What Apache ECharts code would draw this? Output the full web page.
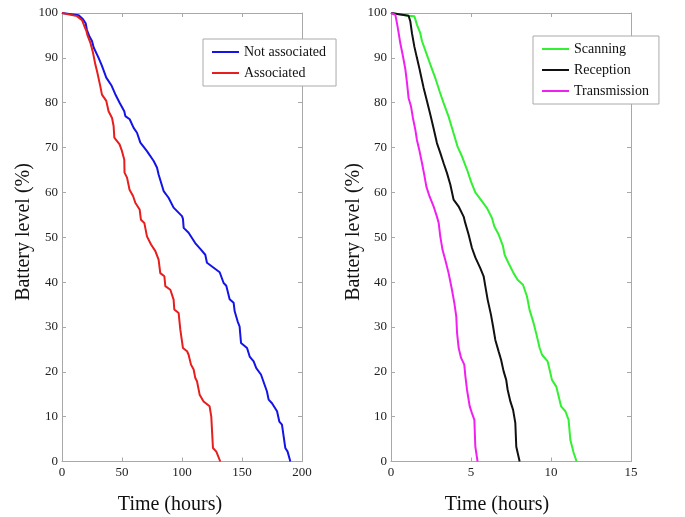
<!DOCTYPE html>
<html><head><meta charset="utf-8">
<script src="https://cdn.jsdelivr.net/npm/echarts@6/dist/echarts.min.js"></script>
<style>html,body{margin:0;padding:0;background:#fff}#c{width:685px;height:517px}</style>
</head><body><div id="c"></div>
<script>
// Left panel: time (hours), battery level (%)
var notAssociated = [[0,100],[13.9,99.5],[17.5,98.6],[19.7,97.7],[20.8,96.2],[23,94.7],[25,93.75],[26.4,92.3],[30.5,90],[33.3,88.2],[36.9,85.6],[41.1,83.9],[44.4,81.9],[48,80],[51.9,78.1],[52.8,77],[56.4,76.3],[59.7,74.4],[62.5,73.3],[65.3,71.1],[70.8,69.2],[76.4,67],[79.2,65.5],[80.5,64],[84.7,60.3],[88.8,58.8],[93,56.6],[100,54.7],[100.8,54.1],[101.4,52.1],[105.5,51],[111,48.7],[115.6,47.3],[119.4,46.1],[120.8,44.3],[126.4,43.2],[131.4,42.2],[134.7,39.8],[136.9,39.2],[139.7,36.2],[143,35.4],[143.9,33.5],[146.4,31.2],[148,30.1],[149.2,26.4],[154.2,25.3],[156.4,23.4],[159.7,22.3],[161.9,20.8],[165.8,19.4],[170.8,15.6],[172.2,13.8],[175,13],[179.2,11.2],[181.1,8.9],[183.3,8.2],[186.1,3],[188,2.2],[190.3,0]];
var associated = [[0,100],[12.5,99.3],[16.7,98.4],[18.6,97.1],[20.3,96],[21.4,94.9],[23.6,93.4],[25.8,91.2],[27.8,88.5],[29.2,87],[31.9,83.7],[33.3,81.8],[36.9,80.4],[38.8,78.1],[41.7,76.6],[43,74.8],[43.6,72.2],[48,70.7],[50,69.2],[51.9,67.3],[52.1,64.4],[54.2,63.3],[56.3,60.6],[59.2,59.2],[61.1,57.7],[64.7,56.2],[65.8,53.9],[68.6,53.2],[70.8,50.2],[74.2,48.4],[77.8,46.9],[80.5,45],[81.9,42],[85.3,41.3],[86.1,39.1],[90.3,38.3],[91.7,37.9],[93,36.1],[93.6,33.9],[97.2,33.1],[98.6,29.4],[100.8,25.3],[104.2,24.6],[105.5,23.8],[107.5,21.6],[109.7,20.5],[111.1,18.6],[112.5,17.9],[114.7,14.9],[118,13.4],[123,12.3],[124.4,10],[125.8,3],[128.6,2.2],[131.9,0]];
// Right panel
var scanning = [[0,100],[1.1,99.4],[1.46,99.3],[1.62,97.4],[1.83,95.5],[1.94,93.7],[2.2,91.1],[2.46,88.5],[2.77,85.5],[3.04,82.5],[3.29,79.9],[3.6,76.9],[3.91,73.2],[4.16,70.2],[4.44,68],[4.75,65.1],[5,62.4],[5.27,60],[5.69,58],[6,56.5],[6.31,54.3],[6.46,52.4],[6.73,50.6],[7,48],[7.1,46.1],[7.35,44.2],[7.66,42],[7.91,40.5],[8.25,39.4],[8.5,36.8],[8.66,33.8],[8.91,30.9],[9.12,27.9],[9.29,25.3],[9.44,23.8],[9.79,22.3],[9.91,20.5],[10.06,18.2],[10.33,16.7],[10.48,14.5],[10.63,12.3],[10.9,11.2],[11.1,9.3],[11.21,4.8],[11.42,1.9],[11.6,0]];
var reception = [[0,100],[1.1,99.4],[1.21,98.1],[1.31,95.5],[1.46,92.5],[1.62,90],[1.79,87.4],[1.88,85.9],[2.04,83.3],[2.25,80.3],[2.46,77.3],[2.66,74.3],[2.87,71],[3.08,68.8],[3.29,66.5],[3.5,64.3],[3.71,61.7],[3.91,58.4],[4.22,56.9],[4.54,54.6],[4.64,53.2],[4.85,50.6],[5.06,47.6],[5.27,45.5],[5.58,43.1],[5.79,41.3],[5.9,39],[6.04,36.1],[6.25,32.7],[6.38,30.1],[6.52,27.1],[6.73,24.5],[6.88,22.7],[7.04,20.1],[7.2,18.2],[7.29,16],[7.46,13.4],[7.63,11.5],[7.77,8.6],[7.83,3.3],[8.04,0]];
var transmission = [[0,100],[0.27,99.6],[0.37,97.8],[0.48,95.5],[0.58,93.3],[0.75,90.3],[0.9,87.4],[1,84.4],[1.1,81],[1.25,79.2],[1.37,76.6],[1.52,74],[1.62,71.7],[1.79,69.1],[1.94,66.5],[2.08,63.9],[2.21,61.3],[2.41,59.1],[2.66,56.9],[2.87,54.6],[2.98,53.2],[3.08,50.2],[3.22,47.2],[3.39,45],[3.6,42],[3.81,38.3],[3.96,35.3],[4.08,32.3],[4.13,28.6],[4.23,25.3],[4.38,23.1],[4.58,21.6],[4.65,19],[4.75,16],[4.92,12.3],[5.06,10.8],[5.21,9.3],[5.27,3.3],[5.41,0]];
var yTicks = {min:0, max:100, interval:10};
var leftX = {min:0, max:200, interval:50};
var rightX = {min:0, max:15, interval:5};

var FONT = 'Liberation Serif';
var axisGray = '#a8a8a8';
function xAx(idx, r, pos, show){
  return {type:'value', gridIndex:idx, position:pos, min:r.min, max:r.max, interval:r.interval,
    axisLine:{show:true,onZero:false,lineStyle:{color:axisGray,width:1}},
    axisTick:{show:true,inside:true,length:4,lineStyle:{color:axisGray}},
    axisLabel:{show:show,margin:5,color:'#222',fontFamily:FONT,fontSize:13},
    splitLine:{show:false}};
}
function yAx(idx, pos, show){
  return {type:'value', gridIndex:idx, position:pos, min:yTicks.min, max:yTicks.max, interval:yTicks.interval,
    axisLine:{show:true,onZero:false,lineStyle:{color:axisGray,width:1}},
    axisTick:{show:true,inside:true,length:4,lineStyle:{color:axisGray}},
    axisLabel:{show:show,margin:4,color:'#222',fontFamily:FONT,fontSize:13},
    splitLine:{show:false}};
}
function ser(name, data, color, xi, yi){
  return {name:name, type:'line', data:data, xAxisIndex:xi, yAxisIndex:yi, symbol:'none',
    lineStyle:{color:color,width:2}, itemStyle:{color:color}, animation:false};
}
var legendCommon = {orient:'vertical', backgroundColor:'#fff', borderColor:'#aaa', borderWidth:1,
  icon:'path://M0,0 L27,0 L27,2 L0,2 Z', symbolKeepAspect:true,
  itemWidth:27, itemHeight:14, itemGap:7, textStyle:{fontFamily:FONT,fontSize:14,color:'#111'}};
var chart = echarts.init(document.getElementById('c'));
chart.setOption({
  backgroundColor:'#fff',
  animation:false,
  grid:[{left:62,top:13,width:240,height:448.5},{left:391,top:13,width:240,height:448.5}],
  xAxis:[xAx(0,leftX,'bottom',true), xAx(0,leftX,'top',false), xAx(1,rightX,'bottom',true), xAx(1,rightX,'top',false)],
  yAxis:[yAx(0,'left',true), yAx(0,'right',false), yAx(1,'left',true), yAx(1,'right',false)],
  legend:[
    Object.assign({}, legendCommon, {left:203, top:39, padding:[6,10,6,9], data:['Not associated','Associated']}),
    Object.assign({}, legendCommon, {left:533, top:36, padding:[6,10,6,9], data:['Scanning','Reception','Transmission']})
  ],
  series:[
    ser('Not associated', notAssociated, '#1414e6', 0, 0),
    ser('Associated', associated, '#e61e1e', 0, 0),
    ser('Scanning', scanning, '#33f033', 2, 2),
    ser('Reception', reception, '#111111', 2, 2),
    ser('Transmission', transmission, '#f020f0', 2, 2)
  ],
  graphic:[
    {type:'text', x:170, y:505, style:{text:'Time (hours)', font:'20px "Liberation Serif"', fill:'#111', align:'center', verticalAlign:'middle'}},
    {type:'text', x:497, y:505, style:{text:'Time (hours)', font:'20px "Liberation Serif"', fill:'#111', align:'center', verticalAlign:'middle'}},
    {type:'text', x:24, y:232, rotation:Math.PI/2, style:{text:'Battery level (%)', font:'20px "Liberation Serif"', fill:'#111', align:'center', verticalAlign:'middle'}},
    {type:'text', x:354, y:232, rotation:Math.PI/2, style:{text:'Battery level (%)', font:'20px "Liberation Serif"', fill:'#111', align:'center', verticalAlign:'middle'}}
  ]
});
</script></body></html>
